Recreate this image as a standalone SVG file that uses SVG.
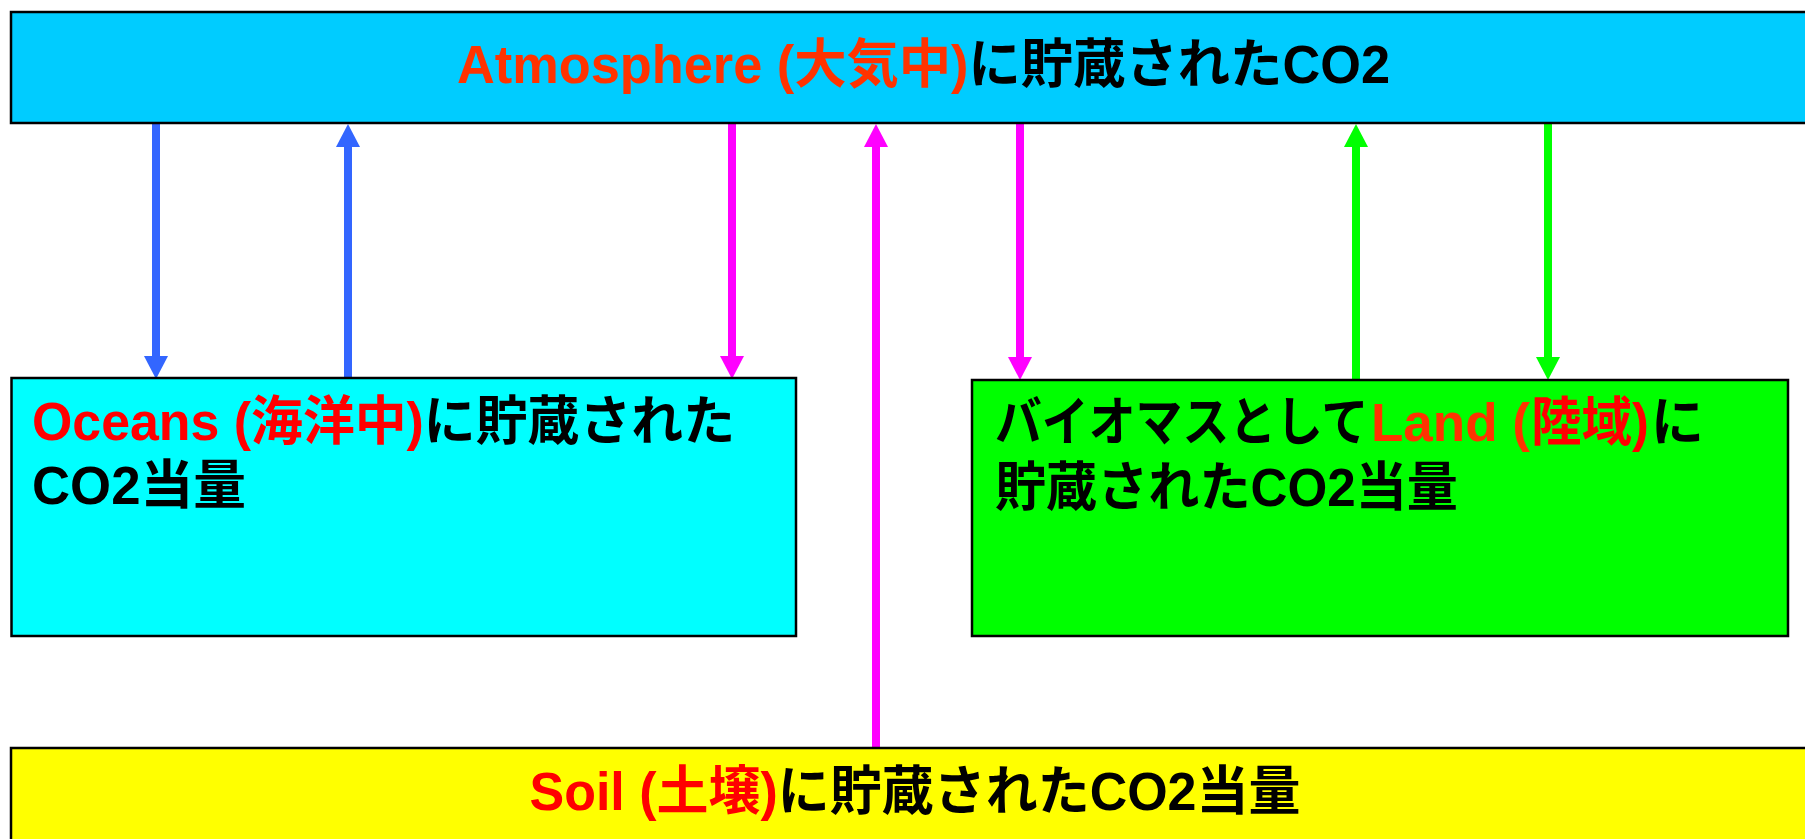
<svg xmlns="http://www.w3.org/2000/svg" width="1805" height="839" viewBox="0 0 1805 839">
<style>
.box{stroke:#000;stroke-width:2.5}
.t{font-family:"Liberation Sans","Noto Sans CJK JP",sans-serif;font-weight:bold;font-size:53px;fill:#000}
.or{fill:#FF3300}
.rd{fill:#FF0000}
.c{fill:none;stroke-width:8}
.blue{stroke:#3366FF}
.mag{stroke:#FF00FF}
.grn{stroke:#00FF00}
</style>
<defs>
<marker id="hb" viewBox="0 0 23 24" refX="0" refY="12" markerWidth="23" markerHeight="24" markerUnits="userSpaceOnUse" orient="auto"><path d="M0,0 L23,12 L0,24 z" fill="#3366FF"/></marker>
<marker id="hm" viewBox="0 0 23 24" refX="0" refY="12" markerWidth="23" markerHeight="24" markerUnits="userSpaceOnUse" orient="auto"><path d="M0,0 L23,12 L0,24 z" fill="#FF00FF"/></marker>
<marker id="hg" viewBox="0 0 23 24" refX="0" refY="12" markerWidth="23" markerHeight="24" markerUnits="userSpaceOnUse" orient="auto"><path d="M0,0 L23,12 L0,24 z" fill="#00FF00"/></marker>
</defs>
<rect width="1805" height="839" fill="#fff"/>
<g id="connectors">
<line class="c blue" x1="156" y1="124" x2="156" y2="356" marker-end="url(#hb)"/>
<line class="c blue" x1="348" y1="378" x2="348" y2="147" marker-end="url(#hb)"/>
<line class="c mag" x1="732" y1="124" x2="732" y2="356" marker-end="url(#hm)"/>
<line class="c mag" x1="876" y1="748" x2="876" y2="147" marker-end="url(#hm)"/>
<line class="c mag" x1="1020" y1="124" x2="1020" y2="357" marker-end="url(#hm)"/>
<line class="c grn" x1="1356" y1="380" x2="1356" y2="147" marker-end="url(#hg)"/>
<line class="c grn" x1="1548" y1="124" x2="1548" y2="357" marker-end="url(#hg)"/>
</g>
<g id="atmosphere">
<rect class="box" x="11" y="12" width="1830" height="111" fill="#00CCFF"/>
<text class="t" x="457" y="83" textLength="933" lengthAdjust="spacingAndGlyphs"><tspan class="or">Atmosphere (大気中)</tspan>に貯蔵されたCO2</text>
</g>
<g id="oceans">
<rect class="box" x="11.5" y="378" width="784.5" height="258" fill="#00FFFF"/>
<text class="t" x="32" y="440" textLength="703" lengthAdjust="spacingAndGlyphs"><tspan class="rd">Oceans (海洋中)</tspan>に貯蔵された</text>
<text class="t" x="32" y="504" textLength="214" lengthAdjust="spacingAndGlyphs">CO2当量</text>
</g>
<g id="land">
<rect class="box" x="972" y="380" width="816" height="256" fill="#00FF00"/>
<text class="t" transform="translate(995,441) scale(0.884,1)">バイオマスとして</text>
<text class="t or" x="1371" y="441">Land (</text>
<text class="t rd" transform="translate(1531,441) scale(0.954,1)">陸域)</text>
<text class="t" x="1651" y="441">に</text>
<text class="t" x="995" y="506" textLength="463" lengthAdjust="spacingAndGlyphs">貯蔵されたCO2当量</text>
</g>
<g id="soil">
<rect class="box" x="11" y="748" width="1830" height="120" fill="#FFFF00"/>
<text class="t" x="529.5" y="810" textLength="771" lengthAdjust="spacingAndGlyphs"><tspan class="rd">Soil (土壌)</tspan>に貯蔵されたCO2当量</text>
</g>
</svg>
